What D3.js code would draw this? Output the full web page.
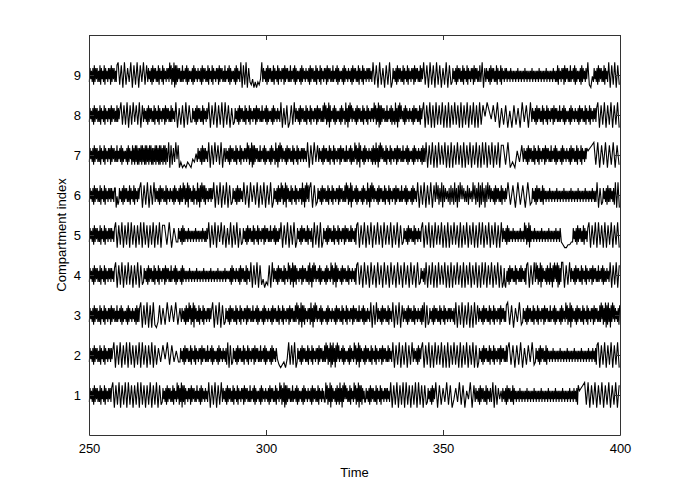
<!DOCTYPE html>
<html>
<head>
<meta charset="utf-8">
<script src="https://cdn.jsdelivr.net/npm/d3@7"></script>
<style>
  html, body { margin: 0; padding: 0; background: #fff; }
  svg text { font-family: "Liberation Sans", Arial, sans-serif; }
</style>
</head>
<body>
<svg id="chart" width="685" height="490"></svg>
<script>
// ---------------- data ----------------
const xTickValues = [250, 300, 350, 400];
const yTickValues = [1, 2, 3, 4, 5, 6, 7, 8, 9];
const xLabel = "Time";
const yLabel = "Compartment index";
const timeDomain = [250, 400];
const indexDomain = [0, 10];
const levelUnit = 0.07; // offset per level step; digit 0..9 -> level (d-4.5)

// Each series: list of [segment start time, extremum levels (digits 0-9)]
const series1 = [
  [250, "2736271827" + "3726281736" + "2817362737" + "27"],
  [256.5, "90819081909180819091808190819081"],
  [270.6, "2736271827" + "3726281736" + "2938172908" + "2817362737" + "1827372628" + "3627182736" + "27362"],
  [283.6, "908190819"],
  [287.6, "2736271827" + "3726281736" + "2817362737" + "1827372628" + "2637281726" + "3627182736" + "2736271827" + "3726281736" + "2938172908" + "1827372628" + "2637281726" + "3627182736" + "2736271827" + "3726281736" + "27362"],
  [316.6, "2938172908" + "2736271827" + "1927082938" + "3726281736" + "2938172908" + "2817362"],
  [328, "2736271827" + "3726281736" + "2817362737" + "27362"],
  [335, "908190819091808190918081"],
  [345.5, "27362718273"],
  [347.7, "9081729180372918063908"],
  [359, "2736271827" + "3726281736" + "27"],
  [363.5, "29081736"],
  [366.6, "2736271827" + "3726281736" + "2636273626" + "3626372636" + "2636273626" + "3626372636" + "2636273626" + "3626372636" + "2636273626" + "3626372636" + "27362718"],
  [388.3, "678919081908190819081908"]
];
const series2 = [
  [250, "2736271827" + "3726281736" + "2817362737" + "2736"],
  [256.8, "9081908190918081909180819081"],
  [269.3, "7283918262"],
  [275.6, "2736271827" + "3726281736" + "2817362737" + "1827372628" + "2637281726" + "3627182736" + "2736271"],
  [289, "9081"],
  [290.5, "2736271827" + "3726281736" + "2817362737" + "1827372628" + "2637281726" + "3627182736" + "27"],
  [303, "3101203"],
  [306.2, "918190"],
  [308.7, "2736271827" + "3726281736" + "2817362737" + "1827372628" + "2938172908" + "1927082938" + "2637281726" + "3627182736" + "2938172908" + "2736271827" + "3726281736" + "2817362737" + "1827372628" + "27362"],
  [335.6, "9081908190819"],
  [341.5, "273627182737"],
  [344, "908190809181908090819180908190819080"],
  [360, "2736271827" + "3726281736" + "2817362737" + "1827372628" + "27"],
  [368.4, "91808190718291"],
  [376, "2736271827" + "3726281736" + "2636273626" + "3626372636" + "2636273626" + "3626372636" + "2636273626" + "3626372636" + "27362718"],
  [393.6, "90819081908190"]
];
const series3 = [
  [250, "2736271827" + "3726281736" + "2817362737" + "1827372628" + "2637281726" + "3627182736" + "2736271827" + "27"],
  [264.4, "90819080910281"],
  [270.6, "719282917"],
  [276, "2736271827" + "2938172908" + "3726281736" + "2817362737" + "2736"],
  [284.7, "90819081"],
  [288.4, "2736271827" + "3726281736" + "2817362737" + "1827372628" + "2637281726" + "3627182736" + "2736271827" + "3726281736" + "2817362737" + "1827372628" + "2938172908" + "2817362737" + "1927082938" + "2637281726" + "3627182736" + "2736271827" + "3726281736" + "2817362737" + "1827372628" + "2637281726" + "27362"],
  [329.4, "90819"],
  [331.4, "2736271827" + "3726281736" + "2"],
  [335.6, "9081908"],
  [338.7, "2736271827" + "3726281736" + "273627182"],
  [344.5, "9081"],
  [346, "2736271827" + "3726281736" + "2817362737" + "2736271"],
  [353.4, "908190819080918"],
  [360, "2736271827" + "3726281736" + "2817362737" + "1827372628"],
  [368, "91807291"],
  [372.4, "2736271827" + "3726281736" + "2817362737" + "1827372628" + "2637281726" + "3627182736" + "2938172908" + "2736271827" + "3726281736" + "2817362737" + "1827372628" + "2938172908" + "1927082938" + "27362718"]
];
const series4 = [
  [250, "2736271827" + "3726281736" + "2817362737" + "273627"],
  [257.3, "908190819180819081"],
  [265.3, "2736271827" + "3726281736" + "2817362737" + "1827372628" + "2637281726" + "3627182736" + "2636273626" + "3626372636" + "2636273626" + "3626372636" + "2636273626" + "3626372636" + "3627182736" + "2736271827" + "3726281736" + "2"],
  [295.5, "908190813021809"],
  [302, "2736271827" + "3726281736" + "2938172908" + "2817362737" + "1827372628" + "1927082938" + "2637281726" + "3627182736" + "2938172908" + "2736271827" + "3726281736" + "27362718"],
  [325.7, "91809180918091809180918091809180918091"],
  [343.5, "2736271"],
  [345, "90819080918190809081918090819081908091908190819080"],
  [367, "2710" + "362718273726281736272827362718"],
  [373.7, "90819"],
  [376, "2938172908" + "2736271827" + "1927082938" + "29081729"],
  [383.6, "90819"],
  [386, "2736271827" + "3726281736" + "2817362737" + "1827372628" + "2637281726" + "27362"],
  [397, "9081908"]
];
const series5 = [
  [250, "2736271827" + "3726281736" + "2817362737" + "273627"],
  [257.3, "9081908190918081909180819081908"],
  [271, "819072"],
  [275, "2736271827" + "2636273626" + "3626372636" + "2636273626" + "273"],
  [283.6, "9081908291807190819071"],
  [293.3, "2736271827" + "3726281736" + "2817362737" + "1827372628" + "2637281726" + "273"],
  [304, "9081908190"],
  [308.6, "2736271827" + "3726281736" + "27"],
  [313, "0918090"],
  [316, "2736271827" + "3726281736" + "2817362737" + "1827372628" + "27362718"],
  [325.7, "9081908190819180918190819081"],
  [338.7, "2736271827" + "3726281736" + "273627"],
  [344, "908190809181908090819180908190819080919081908190809"],
  [366.7, "2736271827" + "2636273626" + "3626372636" + "2938172908" + "2636273626" + "3626372636" + "2636273626" + "3626372636" + "27"],
  [383.2, "2100112"],
  [386.5, "2736271827" + "3726281736" + "27"],
  [391, "90819091809081908190"]
];
const series6 = [
  [250, "2736271827" + "3726281736" + "2817362737" + "273627"],
  [257.3, "7041"],
  [258.3, "2736271827" + "3726281736" + "2817362737"],
  [264.4, "908190819"],
  [268.6, "2736271827" + "3726281736" + "27362718"],
  [274.3, "2736271827" + "2938172908" + "3726281736" + "1927082938" + "2817362737" + "273"],
  [285, "908190819081"],
  [290.4, "2736271827" + "27362"],
  [293.5, "918092819081908190"],
  [302, "2736271827" + "2938172908" + "3726281736" + "2817362737" + "1927082938" + "27"],
  [312.4, "9081"],
  [314.4, "2736271827" + "3726281736" + "2817362737" + "1827372628" + "2938172908" + "2637281726" + "3627182736" + "1927082938" + "2736271827" + "3726281736" + "2817362737" + "1827372628" + "2637281726" + "3627182736" + "2"],
  [342.6, "90819081908"],
  [347.7, "2938172908" + "2736271827" + "1927082938" + "3726281736" + "2938172908" + "1927082938"],
  [363.3, "2736271827" + "3726281736" + "273"],
  [368, "9180918091"],
  [375, "2736271827" + "3726281736" + "2636273626" + "3626372636" + "2636273626" + "3626372636" + "2636273626" + "3626372636" + "2636273626" + "2"],
  [393.3, "9071"],
  [395, "2736271827" + "2736271"],
  [398.5, "9090"]
];
const series7 = [
  [250, "2736271827" + "3726281736" + "2817362737" + "1827372628" + "2637281726" + "3627182736" + "1827182817" + "1728182718" + "1827182817" + "1728182718" + "1827182817"],
  [272, "29081729380"],
  [275.7, "2010210325"],
  [280.5, "2736271827" + "27362"],
  [283.6, "90819281907"],
  [288.4, "2736271827" + "3726281736" + "2817362737" + "2938172908" + "1827372628" + "2637281726" + "3627182736" + "1927082938" + "2736271827" + "3726281736" + "2817362737" + "27362"],
  [311.5, "9081928"],
  [314.8, "2736271827" + "3726281736" + "2817362737" + "1827372628" + "2637281726" + "2938172908" + "3627182736" + "2736271827" + "1927082938" + "3726281736" + "2817362737" + "1827372628" + "2637281726" + "3627182736" + "2736271827" + "2"],
  [345, "9081908091819080908191809081908190809190819081908"],
  [366.7, "819020628"],
  [372.6, "2736271827" + "3726281736" + "2817362737" + "1827372628" + "2637281726" + "3627182736" + "2736271827" + "3726281736" + "2817362737"],
  [390.7, "67891908190819081"]
];
const series8 = [
  [250, "2736271827" + "3726281736" + "2817362737" + "1827372628" + "2736"],
  [258.8, "918190819281908"],
  [265.3, "2736271827" + "3726281736" + "2817362737" + "1827372628" + "27362"],
  [274.3, "9071809182"],
  [279, "2736271827" + "3726281736" + "273"],
  [283.6, "9081908190918071"],
  [291, "2736271827" + "3726281736" + "2817362737" + "1827372628" + "2637281726" + "3627182736" + "27362"],
  [304, "9071802819"],
  [308.2, "2736271827" + "3726281736" + "2817362737" + "1827372628" + "2938172908" + "2637281726" + "3627182736" + "1927082938" + "2736271827" + "3726281736" + "2817362737" + "2938172908" + "1827372628" + "2637281726" + "1927082938" + "3627182736" + "2736271827" + "3726281736"],
  [344.3, "90819080918190809081918090819081908091"],
  [361, "849638290718060817092809"],
  [375, "2736271827" + "3726281736" + "2817362737" + "1827372628" + "2637281726" + "3627182736" + "2736271827" + "3726281736" + "2817362737" + "27"],
  [393.5, "90819081908190"]
];
const series9 = [
  [250, "2736271827" + "3726281736" + "2817362737" + "1827372628"],
  [258, "9180917290819082918"],
  [266.5, "2736271827" + "3726281736" + "2817362737" + "2938172908" + "1827372628" + "2637281726" + "3627182736" + "2736271827" + "3726281736" + "2817362737" + "1827372628" + "2637281726" + "3627182736" + "2"],
  [292.7, "90819072130202139"],
  [299, "2736271827" + "3726281736" + "2817362737" + "1827372628" + "2637281726" + "3627182736" + "2736271827" + "3726281736" + "2817362737" + "1827372628" + "2637281726" + "3627182736" + "2736271827" + "3726281736" + "2817362737" + "27362"],
  [330, "918091708190"],
  [335.6, "2736271827" + "3726281736" + "2817362737" + "1827372628" + "273"],
  [344.3, "918091809180719081"],
  [352.5, "2736271827" + "3726281736" + "2817362737" + "1827372628"],
  [360.5, "2907"],
  [362, "2736271827" + "3726281736" + "2817362737" + "2636273626" + "3626372636" + "2636273626" + "3626372636" + "2636273626" + "3626372636" + "2636273626" + "2817362737" + "1827372628" + "2637281726" + "3627182736" + "273"],
  [390.7, "9104"],
  [392.4, "2736271827" + "3726281736" + "2"],
  [396.6, "90819081"]
];
const allSeries = [series1, series2, series3, series4, series5, series6, series7, series8, series9];

// ---------------- chart ----------------
const svg = d3.select("#chart");
const frame = { left: 89, right: 620, top: 35, bottom: 435 };

const x = d3.scaleLinear().domain(timeDomain).range([frame.left, frame.right]);
const y = d3.scaleLinear().domain(indexDomain).range([frame.bottom, frame.top]);

function decode(segments, idx) {
  const pts = [];
  segments.forEach((seg, i) => {
    const t0 = seg[0];
    const t1 = i + 1 < segments.length ? segments[i + 1][0] : timeDomain[1];
    const s = seg[1];
    const n = s.length;
    for (let k = 0; k < n; k++) {
      const t = t0 + (k + 0.5) * (t1 - t0) / n;
      pts.push([t, idx + (+s[k] - 4.5) * levelUnit]);
    }
  });
  return pts;
}

const line = d3.line().x(d => x(d[0])).y(d => y(d[1]));

const g = svg.append("g");
allSeries.forEach((segs, i) => {
  g.append("path")
    .datum(decode(segs, i + 1))
    .attr("d", line)
    .attr("fill", "none")
    .attr("stroke", "#000")
    .attr("stroke-width", 1.1);
});

const axisColor = "#333";
const fontSize = 13;

const xb = svg.append("g").attr("transform", `translate(0,${frame.bottom})`)
  .call(d3.axisBottom(x).tickValues(xTickValues).tickSizeInner(-5).tickSizeOuter(0).tickPadding(9).tickFormat(d3.format("d")));
const xt = svg.append("g").attr("transform", `translate(0,${frame.top})`)
  .call(d3.axisTop(x).tickValues(xTickValues).tickSizeInner(-5).tickSizeOuter(0).tickFormat(""));
const yl = svg.append("g").attr("transform", `translate(${frame.left},0)`)
  .call(d3.axisLeft(y).tickValues(yTickValues).tickSizeInner(-5).tickSizeOuter(0).tickPadding(8).tickFormat(d3.format("d")));
const yr = svg.append("g").attr("transform", `translate(${frame.right},0)`)
  .call(d3.axisRight(y).tickValues(yTickValues).tickSizeInner(-5).tickSizeOuter(0).tickFormat(""));

[xb, xt, yl, yr].forEach(a => {
  a.select(".domain").attr("stroke", axisColor).attr("stroke-width", 1);
  a.selectAll(".tick line").attr("stroke", axisColor);
  a.selectAll(".tick text").attr("fill", "#000").style("font-size", fontSize + "px")
   .style("font-family", '"Liberation Sans", Arial, sans-serif');
});

svg.append("text")
  .attr("x", (frame.left + frame.right) / 2)
  .attr("y", 477)
  .attr("text-anchor", "middle")
  .style("font-size", fontSize + "px")
  .text(xLabel);

svg.append("text")
  .attr("transform", `translate(66,${(frame.top + frame.bottom) / 2}) rotate(-90)`)
  .attr("text-anchor", "middle")
  .style("font-size", fontSize + "px")
  .text(yLabel);
</script>
</body>
</html>
